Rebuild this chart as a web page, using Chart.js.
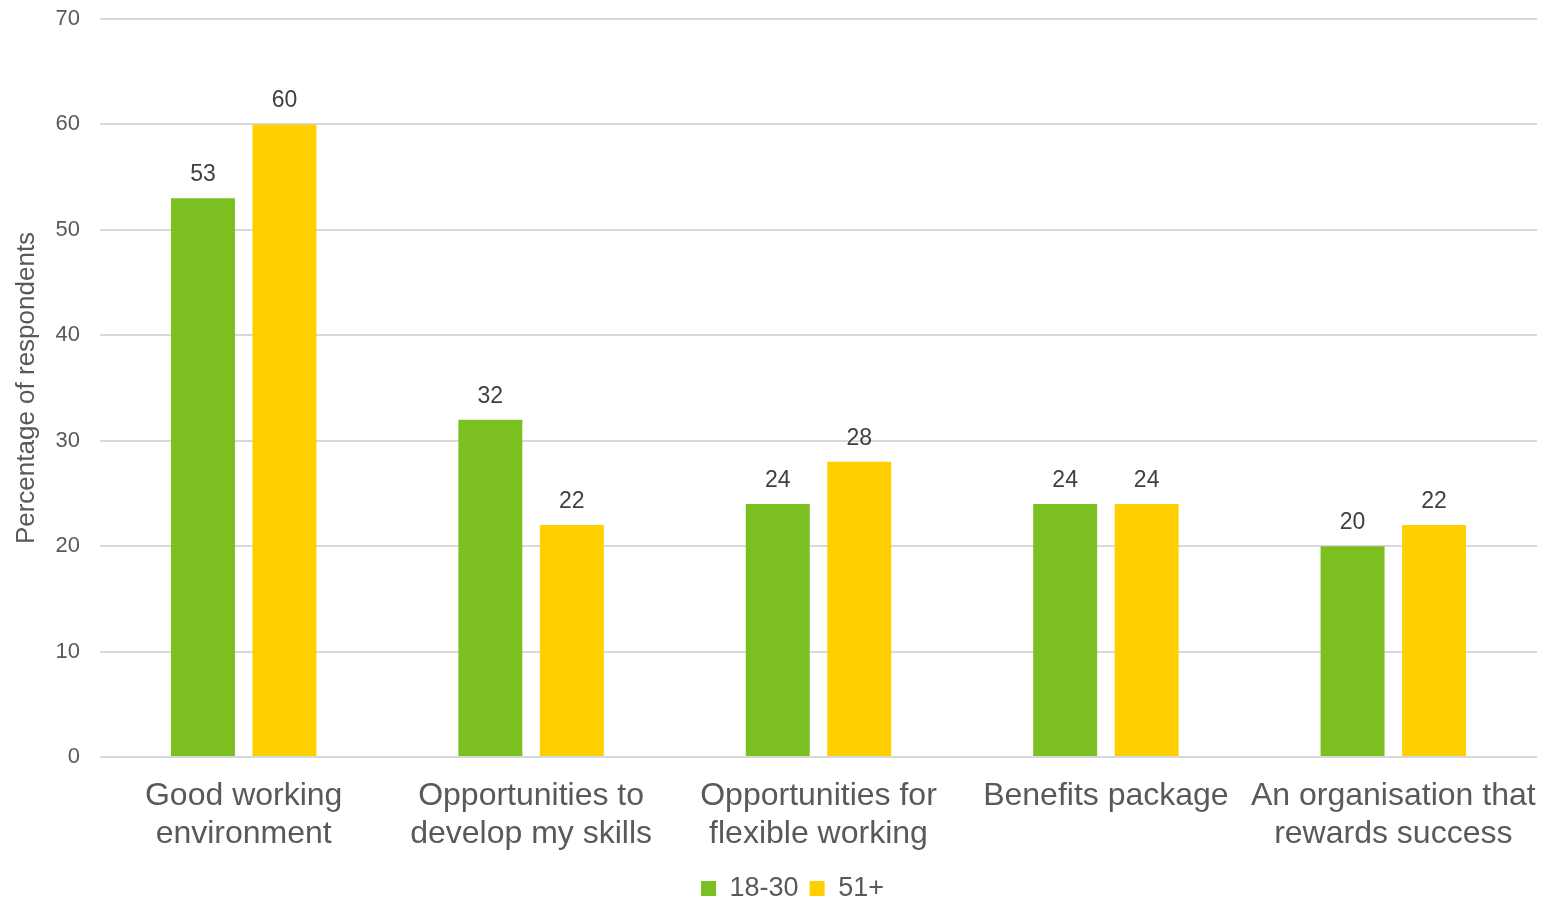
<!DOCTYPE html>
<html>
<head>
<meta charset="utf-8">
<script src="https://cdn.jsdelivr.net/npm/chart.js@4/dist/chart.umd.min.js"></script>
<style>
  html, body { margin: 0; padding: 0; background: #ffffff; }
  #wrap { width: 1546px; height: 901px; position: relative; }
</style>
</head>
<body>
<div id="wrap"><canvas id="chart" width="1546" height="901"></canvas></div>
<script>
// Survey results: what attracts people to an employer, by age group
const categories = [
  ["Good working", "environment"],
  ["Opportunities to", "develop my skills"],
  ["Opportunities for", "flexible working"],
  ["Benefits package"],
  ["An organisation that", "rewards success"]
];
const seriesNames = ["18-30", "51+"];
const young = [53, 32, 24, 24, 20];
const older = [60, 22, 28, 24, 22];
const yTicks = [0, 10, 20, 30, 40, 50, 60, 70];

const textColor = "#595959";
const fontFamily = "'Liberation Sans', Arial, sans-serif";

// Writes each bar's value just above it
const valueLabels = {
  id: "valueLabels",
  afterDatasetsDraw(chart) {
    const ctx = chart.ctx;
    ctx.save();
    ctx.font = "23px " + fontFamily;
    ctx.fillStyle = "#404040";
    ctx.textAlign = "center";
    ctx.textBaseline = "alphabetic";
    chart.data.datasets.forEach((ds, i) => {
      const meta = chart.getDatasetMeta(i);
      meta.data.forEach((bar, j) => {
        ctx.fillText(String(ds.data[j]), bar.x, bar.y - 17);
      });
    });
    ctx.restore();
  }
};

// Nudges the legend so it sits under the middle of the plot
const legendOffset = {
  id: "legendOffset",
  afterLayout(chart) {
    const lg = chart.legend;
    if (!lg) return;
    const dx = 24, dy = 11;
    lg.left += dx; lg.right += dx;
    lg.top += dy; lg.bottom += dy;
  }
};

new Chart(document.getElementById("chart"), {
  type: "bar",
  data: {
    labels: categories,
    datasets: [
      { label: seriesNames[0], data: young, backgroundColor: "#7BBF20",
        categoryPercentage: 0.567, barPercentage: 0.785 },
      { label: seriesNames[1], data: older, backgroundColor: "#FFD000",
        categoryPercentage: 0.567, barPercentage: 0.785 }
    ]
  },
  options: {
    responsive: false,
    animation: false,
    layout: { padding: { left: 0, right: 9, top: 19, bottom: 0 } },
    plugins: {
      legend: {
        position: "bottom",
        labels: {
          color: textColor,
          font: { size: 27, family: fontFamily },
          boxWidth: 15,
          boxHeight: 15,
          padding: 11
        }
      },
      tooltip: { enabled: false }
    },
    scales: {
      x: {
        grid: { display: false, drawTicks: false },
        border: { display: false },
        ticks: {
          color: textColor,
          font: { size: 32, family: fontFamily, lineHeight: 1.16 },
          padding: 21,
          maxRotation: 0,
          autoSkip: false
        },
        afterFit(scale) {
          scale.height = 96;
          scale.paddingLeft = 0;
          scale.paddingRight = 0;
        }
      },
      y: {
        min: 0,
        max: 70,
        afterBuildTicks(scale) { scale.ticks = yTicks.map(v => ({ value: v })); },
        grid: { color: "#d9d9d9", lineWidth: 2, drawTicks: false },
        border: { display: false },
        ticks: {
          color: textColor,
          font: { size: 22, family: fontFamily },
          padding: 20
        },
        title: {
          display: true,
          text: "Percentage of respondents",
          color: textColor,
          font: { size: 26, family: fontFamily },
          padding: { top: 11, bottom: 0 }
        },
        afterFit(scale) {
          scale.width = 100;
          scale.paddingTop = 0;
          scale.paddingBottom = 0;
        }
      }
    }
  },
  plugins: [valueLabels, legendOffset]
});
</script>
</body>
</html>
